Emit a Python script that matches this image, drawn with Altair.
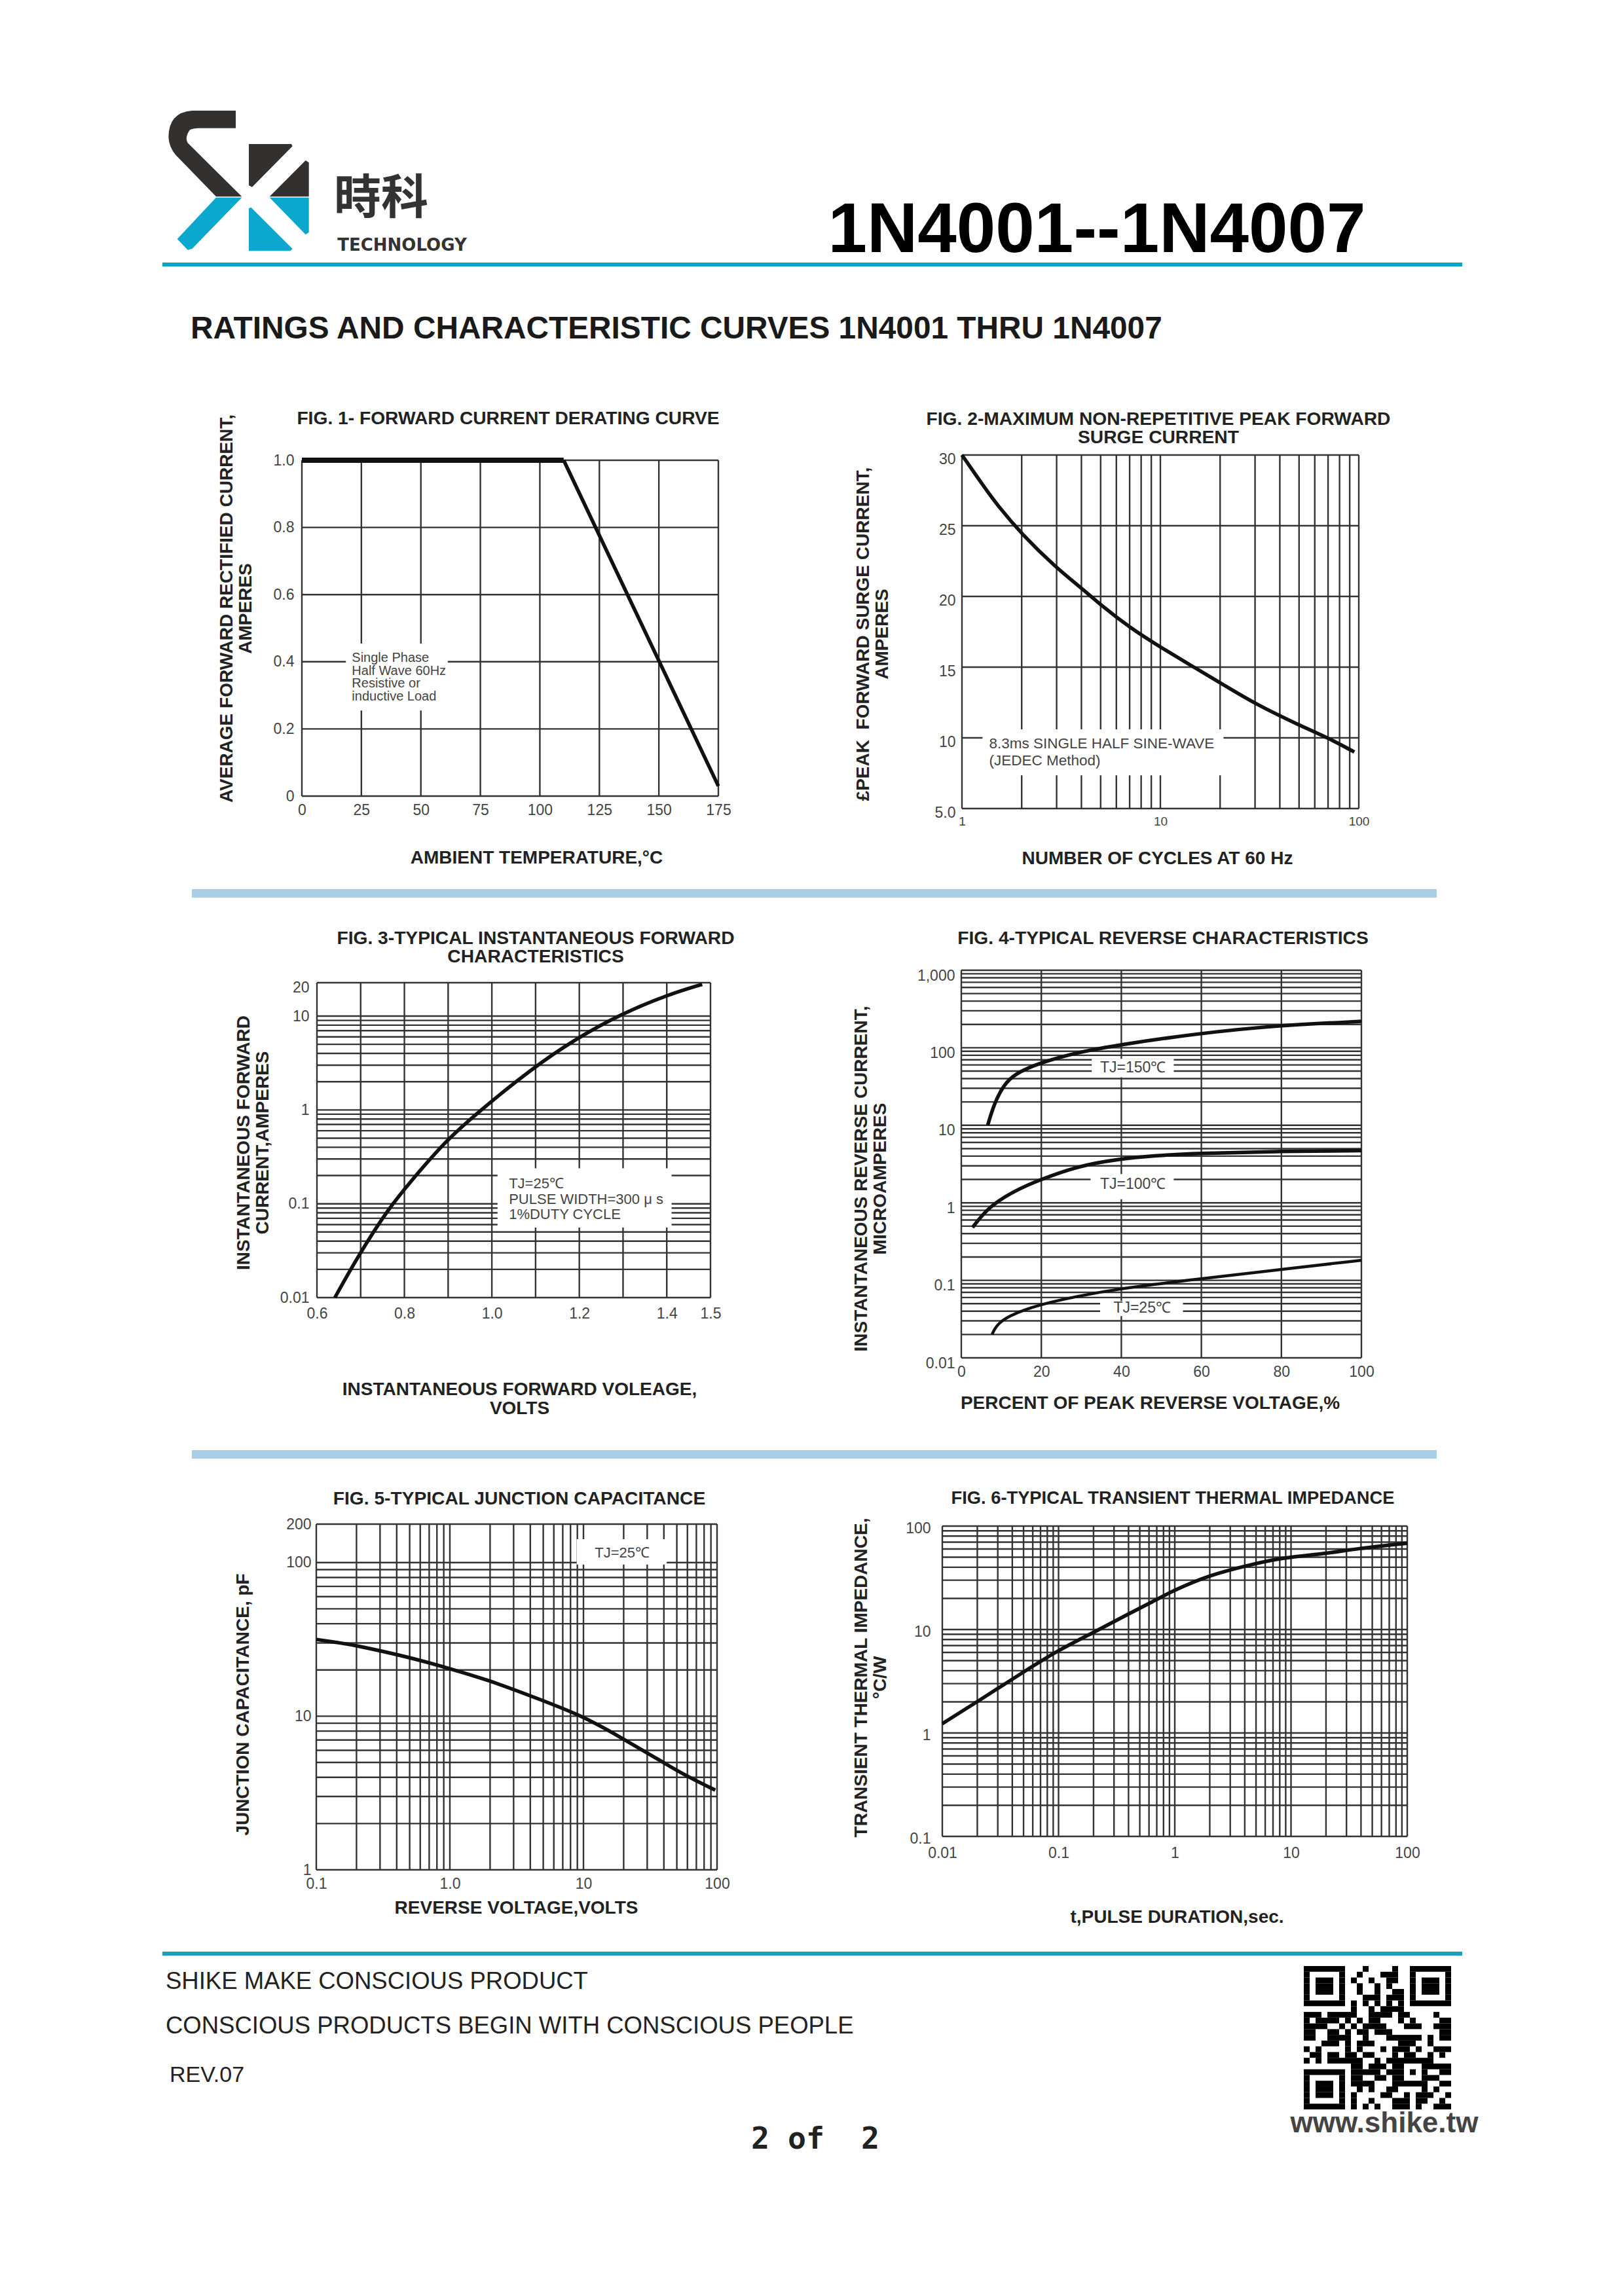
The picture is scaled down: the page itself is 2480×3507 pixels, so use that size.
import altair as alt
import pandas as pd

W, H = 2464, 3491
FONT = "Liberation Sans"
INK = "#222222"
GRID = "#333333"
LABEL = "#444444"
TEAL = "#0BA6C6"
BAND = "#A9CEE6"

# ---------------- figure 1
F1_X = [0, 25, 50, 75, 100, 125, 150, 175]
F1_Y = [0, 0.2, 0.4, 0.6, 0.8, 1.0]
F1_FLAT_X = [0, 110]
F1_FLAT_Y = [1.0, 1.0]
F1_DROP_X = [110, 175]
F1_DROP_Y = [1.0, 0.03]
# ---------------- figure 2
F2_XGRID = [1, 2, 3, 4, 5, 6, 7, 8, 9, 10, 20, 30, 40, 50, 60, 70, 80, 90, 100]
F2_Y = [5, 10, 15, 20, 25, 30]
F2_CX = [1, 1.3, 1.5, 2, 3, 4, 5, 7, 10, 20, 30, 50, 70, 95]
F2_CY = [30, 27.7, 26.5, 24.4, 22.0, 20.6, 19.4, 17.8, 16.4, 13.9, 12.4, 10.9, 10.0, 9.0]
# ---------------- figure 3
F3_XGRID = [0.6, 0.7, 0.8, 0.9, 1.0, 1.1, 1.2, 1.3, 1.4, 1.5]
F3_XTICK = [0.6, 0.8, 1.0, 1.2, 1.4, 1.5]
F3_YGRID = [0.01, 0.02, 0.03, 0.04, 0.05, 0.06, 0.07, 0.08, 0.09, 0.1, 0.2, 0.3, 0.4, 0.5, 0.6, 0.7, 0.8,
            0.9, 1, 2, 3, 4, 5, 6, 7, 8, 9, 10, 22.7]
F3_CX = [0.641, 0.692, 0.764, 0.816, 0.891, 0.964, 1.088, 1.192, 1.299, 1.401, 1.481]
F3_CY = [0.01, 0.0268, 0.09, 0.176, 0.452, 0.91, 2.68, 5.75, 10.7, 16.8, 21.8]
# ---------------- figure 4
LOG_5 = [0.01, 0.02, 0.03, 0.04, 0.05, 0.06, 0.07, 0.08, 0.09, 0.1, 0.2, 0.3, 0.4, 0.5, 0.6, 0.7, 0.8, 0.9,
         1, 2, 3, 4, 5, 6, 7, 8, 9, 10, 20, 30, 40, 50, 60, 70, 80, 90, 100, 200, 300, 400, 500, 600, 700,
         800, 900, 1000]
F4_X = [0, 20, 40, 60, 80, 100]
F4_150_X = [6.6, 8.2, 10.5, 13.3, 19.6, 29.3, 39.4, 58.7, 78.8, 100]
F4_150_Y = [10, 18.9, 32.6, 46, 64, 88, 109, 152, 194, 219]
F4_100_X = [2.8, 6.8, 13.3, 19.6, 29.3, 39.4, 48, 58.7, 78.8, 100]
F4_100_Y = [0.48, 0.887, 1.43, 1.98, 3.0, 3.67, 4.05, 4.34, 4.61, 4.7]
F4_25_X = [7.7, 8.6, 11.5, 19.6, 29.3, 39.4, 58.7, 78.8, 100]
F4_25_Y = [0.02, 0.0257, 0.0346, 0.049, 0.0627, 0.078, 0.103, 0.136, 0.1815]
# ---------------- figure 5
F5_XGRID = [0.1, 0.2, 0.3, 0.4, 0.5, 0.6, 0.7, 0.8, 0.9, 1, 2, 3, 4, 5, 6, 7, 8, 9, 10, 20, 30, 40, 50, 60,
            70, 80, 90, 100]
F5_YGRID = [1, 2, 3, 4, 5, 6, 7, 8, 9, 10, 20, 30, 40, 50, 60, 70, 80, 90, 100, 178]
F5_CX = [0.1, 0.158, 0.197, 0.5, 1.0, 1.97, 3.9, 9.8, 18.3, 33.5, 55, 97]
F5_CY = [31.6, 29.8, 28.9, 24.2, 20.4, 17.1, 13.7, 10.08, 7.42, 5.46, 4.2, 3.3]
# ---------------- figure 6
F6_XGRID = [0.01, 0.02, 0.03, 0.04, 0.05, 0.06, 0.07, 0.08, 0.09, 0.1, 0.2, 0.3, 0.4, 0.5, 0.6, 0.7, 0.8, 0.9,
            1, 2, 3, 4, 5, 6, 7, 8, 9, 10, 20, 30, 40, 50, 60, 70, 80, 90, 100]
F6_YGRID = [0.1, 0.2, 0.3, 0.4, 0.5, 0.6, 0.7, 0.8, 0.9, 1, 2, 3, 4, 5, 6, 7, 8, 9, 10, 20, 30, 40, 50, 60,
            70, 80, 90, 100]
F6_CX = [0.01, 0.0198, 0.049, 0.1, 0.204, 0.402, 0.64, 1, 2.04, 4.1, 8.3, 19.6, 36.5, 100]
F6_CY = [1.23, 1.99, 3.84, 6.34, 9.47, 14.2, 18.5, 24.2, 33.8, 41.3, 49.5, 54, 60.5, 68.3]

# ---------------- QR modules (black columns per row)
F = list(range(7))
Q = [0, 2, 3, 4, 6]
QR_ROWS = [
    F + [10, 15] + [18, 19, 20, 21, 22, 23, 24],
    [0, 6, 9, 13, 14, 15, 18, 24],
    Q + [8, 11, 14, 15, 18, 20, 21, 22, 24],
    Q + [9, 12, 14, 18, 20, 21, 22, 24],
    Q + [9, 12, 15, 16, 18, 20, 21, 22, 24],
    [0, 6, 10, 11, 12, 14, 15, 16, 18, 24],
    F + [8, 10, 12, 14, 16, 18, 19, 20, 21, 22, 23, 24],
    [8, 11, 13, 14, 15, 16],
    [0, 1, 2, 4, 5, 6, 7, 8, 11, 12, 13, 14, 16, 17, 22],
    [0, 2, 3, 4, 5, 7, 9, 11, 12, 16, 18, 23, 24],
    [0, 1, 2, 3, 6, 8, 10, 11, 12, 13, 17, 18, 19, 22, 23, 24],
    [0, 1, 4, 5, 7, 9, 10, 12, 13, 14, 23, 24],
    [0, 1, 4, 5, 6, 7, 10, 14, 15, 16, 17, 18, 19, 21, 23, 24],
    [3, 4, 5, 7, 9, 10, 11, 16, 17, 18, 21],
    [0, 2, 7, 9, 13, 15, 16, 17, 19, 22, 23, 24],
    [1, 2, 4, 5, 7, 8, 10, 11, 15, 17, 18, 21, 23],
    [0, 2, 4, 5, 6, 7, 8, 9, 12, 14, 15, 16, 17, 18, 19, 20, 21],
    [8, 9, 11, 12, 13, 15, 16, 20, 21, 22, 23, 24],
    F + [8, 9, 10, 11, 12, 14, 15, 16, 18, 20, 23, 24],
    [0, 6, 8, 9, 12, 13, 15, 16, 20, 21, 22],
    Q + [8, 9, 10, 11, 15, 16, 17, 18, 19, 20, 23, 24],
    Q + [9, 11, 14, 15, 20, 22],
    Q + [8, 13, 14, 17, 19, 20, 21, 24],
    [0, 6, 8, 11, 15, 16, 17, 19, 20, 23],
    F + [8, 10, 12, 15, 16, 17, 19, 22, 23, 24],
]


def p(v):
    return v - 8


def label_expr(values, texts):
    parts = [f"datum.value==={v}?'{t}':" for v, t in zip(values, texts)]
    return "".join(parts) + "''"


def panel(box, xs, ys, xgrid, ygrid, xticks, xlabels, yticks, ylabels, xtitle, ytitle, xt_pos, yt_pos,
          curves, boxes, notes, lfs=23, xlfs=23, xpad=10, ypad=12, ylo=0):
    left, right, top, bottom = box
    xscale = alt.Scale(type=xs[0], domain=xs[1], range=[p(left), p(right)], nice=False, zero=False)
    yscale = alt.Scale(type=ys[0], domain=ys[1], range=[p(bottom), p(top)], nice=False, zero=False)
    xaxis = alt.Axis(orient="bottom", offset=p(bottom) - H, values=xticks,
                     labelExpr=label_expr(xticks, xlabels), grid=False, ticks=False, domain=False,
                     labelFont=FONT, labelFontSize=xlfs, labelColor=LABEL, labelPadding=xpad,
                     labelFlush=False, labelOverlap=False, labelAngle=0,
                     title=xtitle, titleFont=FONT, titleFontSize=28, titleFontWeight="bold", titleColor=INK,
                     titleX=p(xt_pos[0]), titleY=xt_pos[1] - bottom + 9, titleAlign="center",
                     titleBaseline="alphabetic", titleLineHeight=29)
    yaxis = alt.Axis(orient="left", offset=-p(left), values=yticks,
                     labelExpr=label_expr(yticks, ylabels), grid=False, ticks=False, domain=False,
                     labelFont=FONT, labelFontSize=lfs, labelColor=LABEL, labelPadding=ypad,
                     labelOverlap=False, labelFlush=False, labelOffset=ylo,
                     title=ytitle, titleFont=FONT, titleFontSize=28, titleFontWeight="bold", titleColor=INK,
                     titleX=yt_pos[0] - left + 9, titleY=p(yt_pos[1]), titleAlign="center", titleAngle=270,
                     titleBaseline="alphabetic", titleLineHeight=29)

    vdf = pd.DataFrame({"v": xgrid, "lo": ys[1][0], "hi": ys[1][1]})
    hdf = pd.DataFrame({"v": ygrid, "lo": xs[1][0], "hi": xs[1][1]})
    layers = [
        alt.Chart(vdf).mark_rule(color=GRID, strokeWidth=2.4).encode(
            x=alt.X("v:Q", scale=xscale, axis=xaxis),
            y=alt.Y("lo:Q", scale=yscale, axis=yaxis), y2="hi:Q"),
        alt.Chart(hdf).mark_rule(color=GRID, strokeWidth=2.4).encode(
            y=alt.Y("v:Q", scale=yscale, axis=None),
            x=alt.X("lo:Q", scale=xscale, axis=None), x2="hi:Q"),
    ]
    if boxes:
        layers.append(alt.Chart(pd.DataFrame(boxes, columns=["a", "b", "c", "d"])).mark_rect(color="white").encode(
            x=alt.X("a:Q", scale=xscale, axis=None), x2="b:Q",
            y=alt.Y("c:Q", scale=yscale, axis=None), y2="d:Q"))
    for cx, cy, sw in curves:
        layers.append(alt.Chart(pd.DataFrame({"x": cx, "y": cy})).mark_line(
            color="#111111", strokeWidth=sw, interpolate="basis").encode(
            x=alt.X("x:Q", scale=xscale, axis=None), y=alt.Y("y:Q", scale=yscale, axis=None)))
    for nx, ny, txt, size, align, lh in notes:
        layers.append(alt.Chart(pd.DataFrame({"x": [nx], "y": [ny], "t": [txt]})).mark_text(
            font=FONT, fontSize=size, color=LABEL, align=align, baseline="middle", lineBreak="\n",
            lineHeight=lh).encode(
            x=alt.X("x:Q", scale=xscale, axis=None), y=alt.Y("y:Q", scale=yscale, axis=None), text="t:N"))
    return layers


fig1 = panel((461, 1097, 703, 1216), ("linear", [0, 175]), ("linear", [0, 1]), F1_X, F1_Y,
             F1_X, [str(v) for v in F1_X], F1_Y, ["0", "0.2", "0.4", "0.6", "0.8", "1.0"],
             "AMBIENT TEMPERATURE,°C", ["AVERAGE FORWARD RECTIFIED CURRENT,", "AMPERES"], (819, 1309), (345, 929),
             [(F1_FLAT_X, F1_FLAT_Y, 8), (F1_DROP_X, F1_DROP_Y, 5.5)],
             [(18.5, 61.3, 0.255, 0.454)],
             [(21, 0.411, "Single Phase\nHalf Wave 60Hz\nResistive or\ninductive Load", 20, "left", 19.5)])

fig2 = panel((1469, 2075, 695, 1235), ("log", [1, 100]), ("linear", [5, 30]), F2_XGRID, F2_Y,
             [1, 10, 100], ["1", "10", "100"], F2_Y, ["5.0", "10", "15", "20", "25", "30"],
             "NUMBER OF CYCLES AT 60 Hz", ["£PEAK\u00a0\u00a0FORWARD SURGE CURRENT,", "AMPERES"], (1767, 1310), (1317, 968),
             [(F2_CX, F2_CY, 5.5)],
             [(1.27, 20.8, 7.35, 10.6)],
             [(1.37, 9.6, "8.3ms SINGLE HALF SINE-WAVE\n(JEDEC Method)", 22.5, "left", 26)], xlfs=19, ypad=10, ylo=6)

fig3 = panel((484, 1085, 1501, 1982), ("linear", [0.6, 1.5]), ("log", [0.01, 22.7]), F3_XGRID, F3_YGRID,
             F3_XTICK, ["0.6", "0.8", "1.0", "1.2", "1.4", "1.5"], [0.01, 0.1, 1, 10, 20],
             ["0.01", "0.1", "1", "10", "20"],
             ["INSTANTANEOUS FORWARD VOLEAGE,", "VOLTS"], ["INSTANTANEOUS FORWARD", "CURRENT,AMPERES"],
             (793, 2121), (371, 1745),
             [(F3_CX, F3_CY, 5.5)],
             [(1.013, 1.411, 0.0557, 0.239)],
             [(1.039, 0.163, "TJ=25℃\nPULSE WIDTH=300 μ s\n1%DUTY CYCLE", 22, "left", 23.5)], xpad=13)

fig4 = panel((1468, 2079, 1482, 2074), ("linear", [0, 100]), ("log", [0.01, 1000]), F4_X, LOG_5,
             F4_X, [str(v) for v in F4_X], [0.01, 0.1, 1, 10, 100, 1000], ["0.01", "0.1", "1", "10", "100", "1,000"],
             "PERCENT OF PEAK REVERSE VOLTAGE,%", ["INSTANTANEOUS REVERSE CURRENT,", "MICROAMPERES"],
             (1756, 2142), (1314, 1800),
             [(F4_150_X, F4_150_Y, 5.5), (F4_100_X, F4_100_Y, 5.5), (F4_25_X, F4_25_Y, 4.5)],
             [(32.6, 53.1, 41.7, 72), (32.3, 53.1, 1.11, 2.35), (34.7, 55.4, 0.0346, 0.054)],
             [(42.9, 55, "TJ=150℃", 23, "center", 23), (42.9, 1.74, "TJ=100℃", 23, "center", 23),
              (45.2, 0.0435, "TJ=25℃", 23, "center", 23)], ylo=8, ypad=10)

fig5 = panel((483, 1095, 2328, 2856), ("log", [0.1, 100]), ("log", [1, 178]), F5_XGRID, F5_YGRID,
             [0.1, 1, 10, 100], ["0.1", "1.0", "10", "100"], [1, 10, 100, 178], ["1", "10", "100", "200"],
             "REVERSE VOLTAGE,VOLTS", "JUNCTION CAPACITANCE, pF", (788, 2913), (370, 2603),
             [(F5_CX, F5_CY, 5.5)],
             [(8.9, 42, 97, 142)],
             [(19.5, 116, "TJ=25℃", 22, "center", 22)], ypad=8)

fig6 = panel((1439, 2149, 2331, 2805), ("log", [0.01, 100]), ("log", [0.1, 100]), F6_XGRID, F6_YGRID,
             [0.01, 0.1, 1, 10, 100], ["0.01", "0.1", "1", "10", "100"], [0.1, 1, 10, 100],
             ["0.1", "1", "10", "100"],
             "t,PULSE DURATION,sec.", ["TRANSIENT THERMAL IMPEDANCE,", "°C/W"], (1797, 2927), (1314, 2562),
             [(F6_CX, F6_CY, 5.5)], [], [], xpad=14, ypad=18, ylo=3)

# ---------------- page furniture
PAGE_TEXT = [
    ("1N4001--1N4007", 1675, 353, 107, "bold", "#000000", "center", FONT),
    ("RATINGS AND CHARACTERISTIC CURVES 1N4001 THRU 1N4007", 291, 503, 47.8, "bold", "#1a1a1a", "left", FONT),
    ("時科", 582, 304, 72, "bold", "#333333", "center", "Noto Sans CJK TC"),
    ("TECHNOLOGY", 614, 375, 26, "bold", "#333333", "center", "DejaVu Sans"),
    ("FIG. 1- FORWARD CURRENT DERATING CURVE", 776, 640, 28.2, "bold", INK, "center", FONT),
    ("FIG. 2-MAXIMUM NON-REPETITIVE PEAK FORWARD", 1769, 641, 28.2, "bold", INK, "center", FONT),
    ("SURGE CURRENT", 1769, 669, 28.2, "bold", INK, "center", FONT),
    ("FIG. 3-TYPICAL INSTANTANEOUS FORWARD", 818, 1434, 28.2, "bold", INK, "center", FONT),
    ("CHARACTERISTICS", 818, 1462, 28.2, "bold", INK, "center", FONT),
    ("FIG. 4-TYPICAL REVERSE CHARACTERISTICS", 1776, 1434, 28.2, "bold", INK, "center", FONT),
    ("FIG. 5-TYPICAL JUNCTION CAPACITANCE", 793, 2290, 28.2, "bold", INK, "center", FONT),
    ("FIG. 6-TYPICAL TRANSIENT THERMAL IMPEDANCE", 1791, 2289, 27.3, "bold", INK, "center", FONT),
    ("SHIKE MAKE CONSCIOUS PRODUCT", 253, 3027, 36.5, "normal", "#222222", "left", FONT),
    ("CONSCIOUS PRODUCTS BEGIN WITH CONSCIOUS PEOPLE", 253, 3095, 36.5, "normal", "#222222", "left", FONT),
    ("REV.07", 259, 3170, 34, "normal", "#222222", "left", FONT),
    ("2 of\u00a0\u00a02", 1245, 3268, 46.5, "bold", "#222222", "center", "DejaVu Sans Mono"),
    ("www.shike.tw", 2114, 3244, 44, "bold", "#444444", "center", FONT),
]
RULE_BANDS = [
    (248, 2233, 401, 407, TEAL),
    (293, 2194, 1358, 1371, BAND),
    (293, 2194, 2215, 2228, BAND),
    (248, 2233, 2981, 2987, "#1F9FBF"),
]
LOGO_DARK = [
    "M360 42L160 42Q52 50 52 165Q55 210 85 245L270 436L388 436L140 190Q125 165 150 130Q165 122 190 122L360 122Z",
    "M420 195L615 195L620 205L435 392L420 385Z",
    "M680 270L695 280L695 436L515 436Z",
]
LOGO_TEAL = [
    "M270 440L388 440L160 675L140 680L92 630Z",
    "M515 440L695 440L695 600L680 610Z",
    "M420 490L430 485L620 675L610 685L420 685Z",
]

bands = alt.Chart(pd.DataFrame(RULE_BANDS, columns=["a", "b", "c", "d", "col"])).mark_rect().encode(
    x=alt.X("a:Q", scale=alt.Scale(domain=[8, 8 + W], range=[0, W]), axis=None), x2="b:Q",
    y=alt.Y("c:Q", scale=alt.Scale(domain=[8, 8 + H], range=[0, H]), axis=None), y2="d:Q",
    color=alt.Color("col:N", scale=None, legend=None))

qr_cells = pd.DataFrame([(c, c + 1, r, r + 1) for r, row in enumerate(QR_ROWS) for c in row],
                        columns=["c", "c2", "r", "r2"])
qr = alt.Chart(qr_cells).mark_rect(color="#000000").encode(
    x=alt.X("c:Q", scale=alt.Scale(domain=[0, 25], range=[p(1991), p(2216)]), axis=None), x2="c2:Q",
    y=alt.Y("r:Q", scale=alt.Scale(domain=[0, 25], range=[p(3003), p(3222)]), axis=None), y2="r2:Q")

logo = []
for paths, col in ((LOGO_DARK, "#333130"), (LOGO_TEAL, "#0AA8CC")):
    for path in paths:
        logo.append(alt.Chart(pd.DataFrame({"x": [p(240)], "y": [p(155)]})).mark_point(
            shape=path, size=4 / 9, filled=True, color=col, opacity=1, strokeWidth=0).encode(
            x=alt.X("x:Q", scale=None, axis=None), y=alt.Y("y:Q", scale=None, axis=None)))

texts = []
for t, x, y, size, weight, col, align, font in PAGE_TEXT:
    texts.append(alt.Chart(pd.DataFrame({"t": [t], "x": [p(x)], "y": [p(y)]})).mark_text(
        font=font, fontSize=size, fontWeight=weight, color=col, align=align, baseline="middle").encode(
        x=alt.X("x:Q", scale=None, axis=None), y=alt.Y("y:Q", scale=None, axis=None), text="t:N"))

chart = alt.layer(bands, qr, *logo, *texts, *fig1, *fig2, *fig3, *fig4, *fig5, *fig6).resolve_scale(
    x="independent", y="independent", color="independent"
).resolve_axis(x="independent", y="independent").properties(
    width=W, height=H, padding=0, autosize=alt.AutoSizeParams(type="none"), background="white"
).configure_view(stroke=None)

chart.save("out.html", embed_options={"renderer": "svg", "actions": False})
